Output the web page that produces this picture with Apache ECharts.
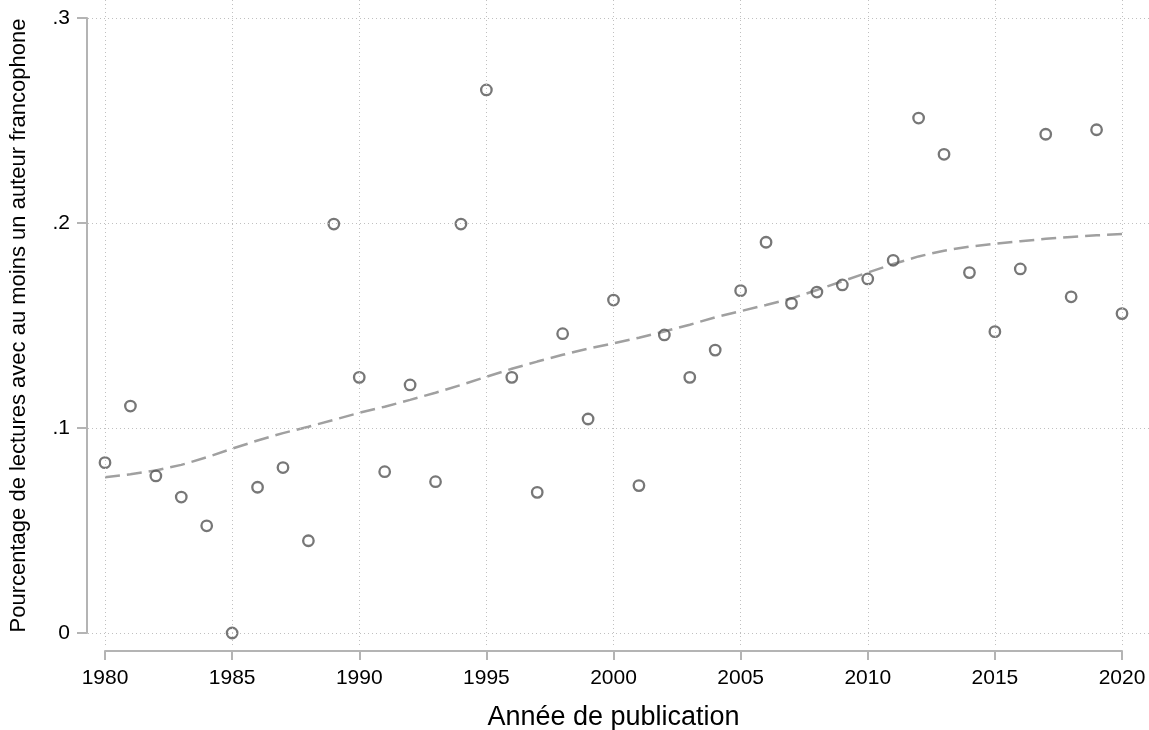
<!DOCTYPE html>
<html>
<head>
<meta charset="utf-8">
<script src="https://cdn.jsdelivr.net/npm/echarts@6/dist/echarts.min.js"></script>
<style>
  html, body { margin: 0; padding: 0; background: #fff; }
  #chart { width: 1149px; height: 730px; }
</style>
</head>
<body>
<div id="chart"></div>
<script>
const years = [1980,1981,1982,1983,1984,1985,1986,1987,1988,1989,1990,1991,1992,1993,1994,1995,1996,1997,1998,1999,2000,2001,2002,2003,2004,2005,2006,2007,2008,2009,2010,2011,2012,2013,2014,2015,2016,2017,2018,2019,2020];
const shares = [0.0831,0.1107,0.0766,0.0663,0.0523,0.0,0.0711,0.0807,0.0450,0.1995,0.1247,0.0787,0.1210,0.0738,0.1995,0.2649,0.1247,0.0686,0.1460,0.1044,0.1624,0.0719,0.1454,0.1247,0.1380,0.1670,0.1906,0.1608,0.1663,0.1698,0.1727,0.1818,0.2512,0.2335,0.1758,0.1470,0.1776,0.2433,0.1640,0.2455,0.1558];
const fitted = [0.0760,0.0774,0.0793,0.0820,0.0857,0.0899,0.0939,0.0975,0.1006,0.1040,0.1074,0.1104,0.1137,0.1172,0.1210,0.1250,0.1289,0.1324,0.1357,0.1387,0.1413,0.1440,0.1471,0.1504,0.1540,0.1570,0.1600,0.1632,0.1673,0.1716,0.1758,0.1800,0.1837,0.1865,0.1885,0.1899,0.1911,0.1923,0.1932,0.1940,0.1946];
const xTicks = [1980,1985,1990,1995,2000,2005,2010,2015,2020];
const yTicks = [0,0.1,0.2,0.3];
const xTitle = 'Année de publication';
const yTitle = 'Pourcentage de lectures avec au moins un auteur francophone';

const FONT = '"Liberation Sans", Arial, Helvetica, sans-serif';
const gridStyle = { color: '#c0c0c0', width: 1, type: [1, 3] };

const bgXmin = 1979.331, bgXmax = 2021.062, bgYmin = -0.00585, bgYmax = 0.30878;

const gridLineData = [];
xTicks.forEach(x => gridLineData.push([{ coord: [x, bgYmin] }, { coord: [x, bgYmax] }]));
yTicks.forEach(y => gridLineData.push([{ coord: [bgXmin, y] }, { coord: [bgXmax, y] }]));

const chart = echarts.init(document.getElementById('chart'), null, { renderer: 'canvas' });
chart.setOption({
  animation: false,
  backgroundColor: '#ffffff',
  textStyle: { fontFamily: FONT },
  grid: [
    { left: 88, right: 0, top: 0, bottom: 85, containLabel: false, outerBoundsMode: 'none' },
    { left: 105, right: 27, top: 18, bottom: 97, containLabel: false, outerBoundsMode: 'none' }
  ],
  xAxis: [
    { type: 'value', gridIndex: 0, min: bgXmin, max: bgXmax, show: false },
    {
      type: 'value', gridIndex: 1, min: 1980, max: 2020, interval: 5, offset: 18,
      axisLine: { show: true, onZero: false, lineStyle: { color: '#b4b4b4', width: 2 } },
      axisTick: { show: true, length: 9, lineStyle: { color: '#b4b4b4', width: 2 } },
      axisLabel: { color: '#000', fontSize: 21, margin: 17, fontFamily: FONT, formatter: v => String(v) },
      splitLine: { show: false },
      name: xTitle, nameLocation: 'middle', nameGap: 53, nameMoveOverlap: false,
      nameTextStyle: { color: '#000', fontSize: 27, fontFamily: FONT }
    }
  ],
  yAxis: [
    { type: 'value', gridIndex: 0, min: bgYmin, max: bgYmax, show: false },
    {
      type: 'value', gridIndex: 1, min: 0, max: 0.3, interval: 0.1, offset: 18,
      axisLine: { show: true, onZero: false, lineStyle: { color: '#b4b4b4', width: 2 } },
      axisTick: { show: true, length: 10, lineStyle: { color: '#b4b4b4', width: 2 } },
      axisLabel: { color: '#000', fontSize: 21, margin: 17, fontFamily: FONT,
        formatter: v => v === 0 ? '0' : '.' + Math.round(v * 10) },
      splitLine: { show: false },
      name: yTitle, nameLocation: 'middle', nameGap: 57, nameRotate: 90, nameMoveOverlap: false,
      nameTextStyle: { color: '#000', fontSize: 22, fontFamily: FONT }
    }
  ],
  series: [
    {
      type: 'scatter', xAxisIndex: 0, yAxisIndex: 0, data: [], silent: true,
      markLine: { silent: true, symbol: ['none', 'none'], label: { show: false },
        lineStyle: gridStyle, emphasis: { disabled: true }, animation: false, data: gridLineData }
    },
    {
      type: 'line', xAxisIndex: 1, yAxisIndex: 1,
      data: years.map((y, i) => [y, fitted[i]]),
      showSymbol: false, symbol: 'none', smooth: false,
      lineStyle: { color: '#a0a0a0', width: 2.5, type: [15, 7] },
      z: 3
    },
    {
      type: 'scatter', xAxisIndex: 1, yAxisIndex: 1,
      data: years.map((y, i) => [y, shares[i]]),
      symbol: 'circle', symbolSize: 10.5,
      itemStyle: { color: 'rgba(0,0,0,0)', borderColor: '#555555', borderWidth: 2.3 },
      z: 4, clip: false
    }
  ]
});
</script>
</body>
</html>
